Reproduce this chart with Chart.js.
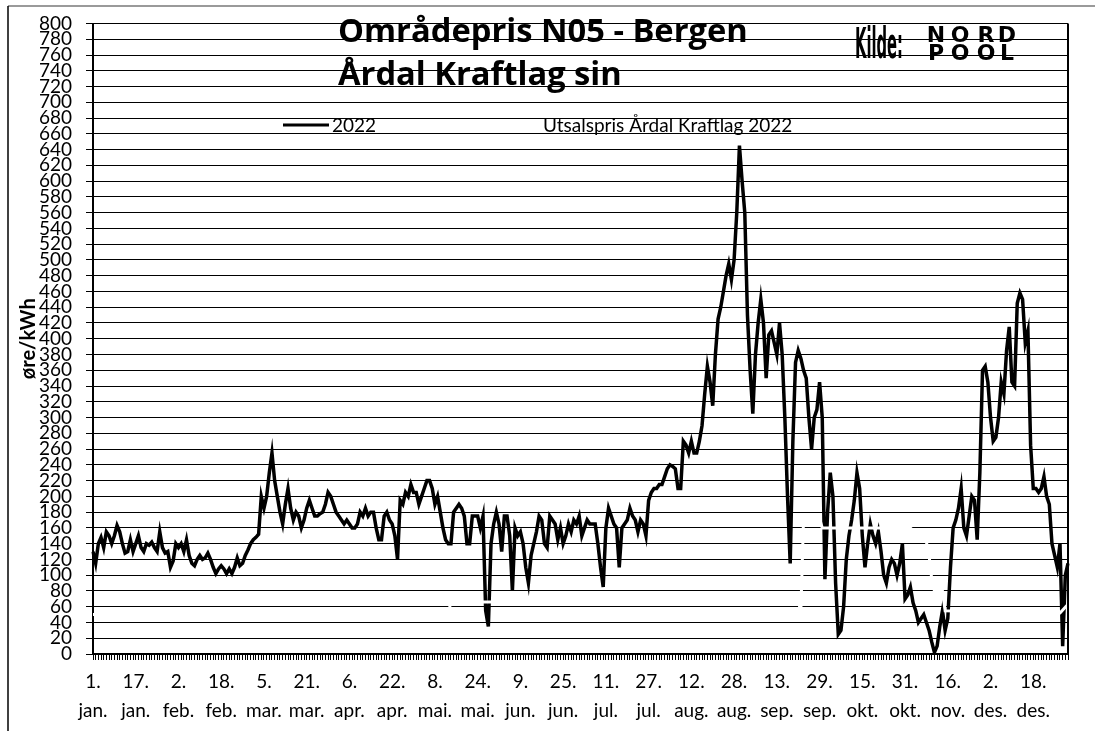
<!DOCTYPE html>
<html>
<head>
<meta charset="utf-8">
<script src="https://cdn.jsdelivr.net/npm/chart.js@4.4.1/dist/chart.umd.min.js"></script>
<style>
  html, body { margin: 0; padding: 0; background: #fff; }
  #wrap { width: 1095px; height: 731px; }
</style>
</head>
<body>
<div id="wrap"><canvas id="chart" width="1095" height="731"></canvas></div>
<script>
// kategoriaksen er eit skotår (1. jan - 31. des)
const monthDays = [31, 29, 31, 30, 31, 30, 31, 31, 30, 31, 30, 31];
const monthNames = ['jan.', 'feb.', 'mar.', 'apr.', 'mai.', 'jun.', 'jul.', 'aug.', 'sep.', 'okt.', 'nov.', 'des.'];
const tickLabels = ['1. jan.', '17. jan.', '2. feb.', '18. feb.', '5. mar.', '21. mar.', '6. apr.', '22. apr.',
  '8. mai.', '24. mai.', '9. jun.', '25. jun.', '11. jul.', '27. jul.', '12. aug.', '28. aug.',
  '13. sep.', '29. sep.', '15. okt.', '31. okt.', '16. nov.', '2. des.', '18. des.'];
const yTicks = { min: 0, max: 800, step: 20 };

// områdepris NO5 2022, øre/kWh, ein verdi per dag
const jan = [130, 115, 140, 148, 135, 155, 150, 140, 150, 163, 155, 140, 128, 130, 145, 130, 140, 150, 135, 130, 140, 138, 142, 135, 130, 155, 135, 128, 130, 110, 118];
const feb = [140, 135, 140, 130, 145, 125, 115, 112, 120, 125, 120, 122, 128, 120, 110, 102, 108, 112, 108, 102, 108, 102, 110, 122, 112, 115, 125, 132, 140];
const mar = [145, 148, 152, 200, 185, 200, 230, 255, 220, 200, 180, 165, 190, 210, 185, 170, 180, 175, 160, 170, 185, 195, 185, 175, 175, 178, 180, 190, 205, 200, 190];
const apr = [180, 175, 170, 165, 170, 165, 160, 160, 165, 180, 175, 185, 175, 180, 180, 160, 145, 145, 175, 180, 170, 165, 150, 120, 195, 190, 205, 200, 215, 205];
const mai = [205, 190, 200, 210, 220, 220, 210, 190, 200, 180, 160, 145, 140, 140, 180, 185, 190, 185, 175, 140, 140, 175, 175, 175, 160, 175, 55, 35, 140, 165, 180];
const jun = [165, 130, 175, 175, 150, 80, 160, 150, 155, 140, 110, 90, 125, 140, 155, 175, 170, 140, 135, 175, 170, 165, 145, 160, 140, 150, 165, 155, 170, 165];
const jul = [175, 150, 160, 170, 165, 165, 165, 140, 110, 85, 160, 185, 175, 165, 160, 110, 160, 165, 170, 185, 175, 170, 155, 170, 165, 150, 195, 205, 210, 210, 215];
const aug = [215, 225, 235, 240, 238, 235, 210, 210, 270, 265, 255, 270, 255, 255, 270, 290, 330, 365, 345, 315, 380, 425, 440, 460, 480, 495, 475, 500, 560, 645, 600];
const sep = [560, 430, 360, 305, 380, 420, 450, 420, 350, 405, 410, 395, 380, 420, 380, 300, 200, 115, 270, 370, 385, 375, 360, 350, 300, 260, 300, 310, 345, 300];
const okt = [95, 180, 230, 200, 90, 25, 30, 60, 120, 150, 170, 195, 230, 210, 150, 110, 140, 165, 150, 140, 155, 130, 100, 90, 110, 120, 115, 100, 115, 140, 70];
const nov = [75, 85, 65, 55, 40, 45, 50, 40, 30, 15, 2, 10, 35, 55, 30, 45, 110, 160, 170, 185, 210, 160, 150, 175, 200, 195, 145, 230, 360, 365];
const des = [345, 300, 270, 275, 300, 345, 330, 385, 415, 345, 340, 445, 458, 450, 395, 410, 265, 210, 210, 205, 210, 225, 200, 190, 140, 125, 110, 140, 10, 100, 115];

// utsalspris Årdal Kraftlag (kvit linje i originalen), knekkpunkt
const utsalsDates = ['1. jan.', '13. mai.', '14. mai.', '21. sep.', '22. sep.', '23. sep.', '29. sep.', '30. sep.',
  '2. nov.', '8. nov.', '9. nov.', '10. nov.', '11. nov.', '14. nov.', '15. nov.', '28. des.', '31. des.'];
const utsalsValues = [50, 52, 66, 66, 55, 172, 172, 160, 160, 142, 125, 95, 80, 80, 55, 52, 63];

const categories = [];
monthDays.forEach((n, m) => {
  for (let d = 1; d <= n; d++) categories.push(d + '. ' + monthNames[m]);
});
const spot2022 = [].concat(jan, feb, mar, apr, mai, jun, jul, aug, sep, okt, nov, des);
const utsalspris = utsalsDates.map((d, i) => ({ x: d, y: utsalsValues[i] }));

const FONT = 'Lato, "Open Sans", sans-serif';
const TITLE_FONT = '"Open Sans", Lato, sans-serif';
const AREA = { left: 93, top: 19, right: 1068, bottom: 654 };

// ramme, titlar og forklaring
const decorPlugin = {
  id: 'decor',
  beforeDraw(chart) {
    const ctx = chart.ctx;
    ctx.save();
    ctx.fillStyle = '#fff';
    ctx.fillRect(0, 0, chart.width, chart.height);
    ctx.strokeStyle = '#9a9a9a';
    ctx.lineWidth = 2;
    ctx.beginPath(); ctx.moveTo(8, 6); ctx.lineTo(chart.width, 6); ctx.stroke();
    ctx.strokeStyle = '#000';
    ctx.lineWidth = 1.5;
    ctx.beginPath(); ctx.moveTo(8, 6); ctx.lineTo(8, chart.height); ctx.stroke();
    ctx.restore();
  },
  afterDraw(chart) {
    const ctx = chart.ctx;
    const a = chart.chartArea;
    ctx.save();
    ctx.fillStyle = '#000';
    ctx.strokeStyle = '#000';

    // høgre kant
    ctx.lineWidth = 2;
    ctx.beginPath(); ctx.moveTo(a.right, a.top); ctx.lineTo(a.right, a.bottom); ctx.stroke();

    // tittel
    ctx.textBaseline = 'alphabetic';
    ctx.textAlign = 'left';
    let size = 30;
    ctx.font = 'bold ' + size + 'px ' + TITLE_FONT;
    size = size * 410 / ctx.measureText('Områdepris N05 - Bergen').width;
    ctx.font = 'bold ' + size + 'px ' + TITLE_FONT;
    ctx.fillText('Områdepris N05 - Bergen', 338, 42);
    ctx.fillText('Årdal Kraftlag sin', 338, 85);

    // Kilde: (smal skrift)
    ctx.save();
    ctx.font = 'bold 42px "DejaVu Sans"';
    const kw = ctx.measureText('Kilde:').width;
    ctx.translate(855, 58);
    ctx.scale(48 / kw, 1);
    ctx.fillText('Kilde:', 0, 0);
    ctx.restore();

    // NORD POOL
    ctx.font = 'bold 22px "DejaVu Sans"';
    ctx.textAlign = 'center';
    const cols = [936, 960, 986, 1007];
    'NORD'.split('').forEach((c, i) => ctx.fillText(c, cols[i], 42));
    'POOL'.split('').forEach((c, i) => ctx.fillText(c, cols[i], 60));

    // forklaring
    const ds = chart.data.datasets;
    ctx.textAlign = 'left';
    ctx.font = '19px ' + FONT;
    ctx.lineWidth = 3;
    ctx.strokeStyle = ds[1].borderColor;
    ctx.beginPath(); ctx.moveTo(283, 125); ctx.lineTo(329, 125); ctx.stroke();
    ctx.fillText(ds[1].label, 332, 132);
    ctx.strokeStyle = ds[0].borderColor;
    ctx.beginPath(); ctx.moveTo(495, 125); ctx.lineTo(538, 125); ctx.stroke();
    ctx.fillText(ds[0].label, 543, 132);

    // y-aksetittel
    ctx.save();
    ctx.font = 'bold 20px ' + FONT;
    ctx.textAlign = 'center';
    ctx.textBaseline = 'middle';
    ctx.translate(29, (a.top + a.bottom) / 2);
    ctx.rotate(-Math.PI / 2);
    ctx.fillText('øre/kWh', 0, 0);
    ctx.restore();
    ctx.restore();
  }
};

new Chart(document.getElementById('chart'), {
  type: 'line',
  data: {
    labels: categories,
    datasets: [
      {
        label: 'Utsalspris Årdal Kraftlag 2022',
        data: utsalspris,
        borderColor: '#ffffff',
        borderWidth: 3,
        pointRadius: 0,
        order: 0
      },
      {
        label: '2022',
        data: spot2022,
        borderColor: '#000000',
        borderWidth: 3.5,
        pointRadius: 0,
        tension: 0,
        order: 1
      }
    ]
  },
  options: {
    responsive: false,
    animation: false,
    devicePixelRatio: 1,
    layout: { padding: { top: AREA.top, right: 1095 - AREA.right, left: 0, bottom: 0 } },
    plugins: { legend: { display: false }, tooltip: { enabled: false } },
    scales: {
      x: {
        type: 'category',
        afterFit(s) { s.height = 731 - AREA.bottom; },
        border: { color: '#000', width: 2 },
        grid: { drawOnChartArea: false, drawTicks: true, tickLength: 6, color: '#000', lineWidth: 1 },
        ticks: {
          autoSkip: false,
          maxRotation: 0,
          minRotation: 0,
          padding: 8,
          color: '#000',
          font: { family: FONT, size: 19, lineHeight: 1.5 },
          callback(v, i) { return i % 16 === 0 && tickLabels[i / 16] ? tickLabels[i / 16].split(' ') : ''; }
        }
      },
      y: {
        min: yTicks.min,
        max: yTicks.max,
        afterFit(s) { s.width = AREA.left; },
        border: { color: '#000', width: 2 },
        grid: { color: '#000', lineWidth: 1, tickLength: 7 },
        ticks: {
          stepSize: yTicks.step,
          autoSkip: false,
          padding: 14,
          color: '#000',
          font: { family: FONT, size: 19, lineHeight: 1 }
        }
      }
    }
  },
  plugins: [decorPlugin]
});
</script>
</body>
</html>
